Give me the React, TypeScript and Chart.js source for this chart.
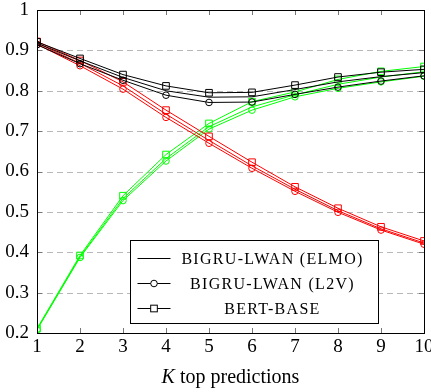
import React, { useEffect, useRef } from "react";
import { Chart, registerables } from "chart.js";

Chart.register(...registerables);

// K values on the x axis
const kValues = [1, 2, 3, 4, 5, 6, 7, 8, 9, 10];
const yTickLabels = ["0.2", "0.3", "0.4", "0.5", "0.6", "0.7", "0.8", "0.9", "1"];
const legendLabels = ["BIGRU-LWAN (ELMO)", "BIGRU-LWAN (L2V)", "BERT-BASE"];
const axisTitleItalic = "K";
const axisTitleRest = " top predictions";

// black group
const blackElmo = [0.918, 0.874, 0.833, 0.8, 0.784, 0.785, 0.803, 0.822, 0.835, 0.845];
const blackL2v = [0.914, 0.867, 0.826, 0.789, 0.771, 0.772, 0.791, 0.809, 0.824, 0.837];
const blackBert = [0.921, 0.88, 0.84, 0.812, 0.795, 0.796, 0.814, 0.834, 0.846, 0.853];

// red group
const redElmo = [0.918, 0.868, 0.812, 0.742, 0.677, 0.614, 0.556, 0.503, 0.458, 0.423];
const redL2v = [0.915, 0.862, 0.804, 0.734, 0.67, 0.608, 0.551, 0.499, 0.455, 0.42];
const redBert = [0.922, 0.875, 0.822, 0.752, 0.687, 0.623, 0.562, 0.509, 0.463, 0.428];

// green group
const greenElmo = [0.209, 0.389, 0.533, 0.632, 0.711, 0.76, 0.79, 0.816, 0.834, 0.847];
const greenL2v = [0.208, 0.387, 0.528, 0.626, 0.705, 0.752, 0.785, 0.806, 0.822, 0.836];
const greenBert = [0.211, 0.392, 0.54, 0.642, 0.719, 0.773, 0.797, 0.828, 0.848, 0.86];

const BLACK = "#000000";
const RED = "#ff0000";
const GREEN = "#00ff00";
const SERIF = "'Liberation Serif', 'Times New Roman', serif";

type Kind = "line" | "circle" | "rect";

function series(label: string, values: number[], color: string, kind: Kind) {
  return {
    label,
    data: values.map((v, i) => ({ x: kValues[i], y: v })),
    borderColor: color,
    backgroundColor: color,
    borderWidth: 1,
    pointStyle: kind === "line" ? false : kind,
    pointRadius: kind === "line" ? 0 : kind === "circle" ? 3.3 : 4.7,
    pointBorderWidth: 1,
    pointBorderColor: color,
    pointBackgroundColor: "rgba(255,255,255,0)",
    tension: 0,
  };
}

function drawMarker(ctx: CanvasRenderingContext2D, kind: Kind, x: number, y: number) {
  if (kind === "circle") {
    ctx.beginPath();
    ctx.arc(x, y, 3.3, 0, Math.PI * 2);
    ctx.fill();
    ctx.stroke();
  } else if (kind === "rect") {
    const s = 4.7 * Math.SQRT1_2;
    ctx.fillRect(x - s, y - s, 2 * s, 2 * s);
    ctx.strokeRect(x - s, y - s, 2 * s, 2 * s);
  }
}

const framePlugin = {
  id: "frame",
  beforeDatasetsDraw(chart: any) {
    const { ctx, chartArea: a, scales } = chart;
    const y = scales.y;
    ctx.save();
    ctx.strokeStyle = "#b8b8b8";
    ctx.lineWidth = 1;
    ctx.setLineDash([6, 4]);
    y.ticks.forEach((t: any) => {
      if (t.value > y.min + 1e-9 && t.value < y.max - 1e-9) {
        const py = Math.round(y.getPixelForValue(t.value)) + 0.5;
        ctx.beginPath();
        ctx.moveTo(a.left, py);
        ctx.lineTo(a.right, py);
        ctx.stroke();
      }
    });
    ctx.restore();
  },
  afterDatasetsDraw(chart: any) {
    const { ctx, chartArea: a, scales } = chart;
    const { x, y } = scales;
    const tick = 5;
    ctx.save();
    ctx.lineWidth = 1;
    ctx.strokeStyle = "#777777";
    x.ticks.forEach((t: any) => {
      const px = Math.round(x.getPixelForValue(t.value)) + 0.5;
      ctx.beginPath();
      ctx.moveTo(px, a.bottom);
      ctx.lineTo(px, a.bottom - tick);
      ctx.moveTo(px, a.top);
      ctx.lineTo(px, a.top + tick);
      ctx.stroke();
    });
    y.ticks.forEach((t: any) => {
      const py = Math.round(y.getPixelForValue(t.value)) + 0.5;
      ctx.beginPath();
      ctx.moveTo(a.left, py);
      ctx.lineTo(a.left + tick, py);
      ctx.moveTo(a.right, py);
      ctx.lineTo(a.right - tick, py);
      ctx.stroke();
    });
    ctx.strokeStyle = "#000000";
    ctx.strokeRect(Math.round(a.left) + 0.5, Math.round(a.top) + 0.5, Math.round(a.right - a.left), Math.round(a.bottom - a.top));

    // legend box in the lower right of the plot
    const boxRight = a.right - 46;
    const boxBottom = a.bottom - 10;
    const boxW = 248;
    const boxH = 83;
    const bx = Math.round(boxRight - boxW) + 0.5;
    const by = Math.round(boxBottom - boxH) + 0.5;
    ctx.fillStyle = "#ffffff";
    ctx.fillRect(bx, by, boxW, boxH);
    ctx.strokeStyle = "#000000";
    ctx.strokeRect(bx, by, boxW, boxH);
    const kinds: Kind[] = ["line", "circle", "rect"];
    const rowY = [by + 17, by + 42.5, by + 67];
    const sampleL = bx + 7;
    const sampleR = bx + 40;
    const textCx = bx + 142;
    ctx.font = `16px ${SERIF}`;
    (ctx as any).letterSpacing = "1.3px";
    ctx.textAlign = "center";
    ctx.textBaseline = "middle";
    legendLabels.forEach((label, i) => {
      const ry = Math.round(rowY[i]) + 0.5;
      ctx.strokeStyle = BLACK;
      ctx.beginPath();
      ctx.moveTo(sampleL, ry);
      ctx.lineTo(sampleR, ry);
      ctx.stroke();
      ctx.fillStyle = "#ffffff";
      drawMarker(ctx, kinds[i], (sampleL + sampleR) / 2, ry);
      ctx.fillStyle = "#000000";
      ctx.fillText(label, textCx, ry + 1);
    });
    ctx.restore();
  },
  afterDraw(chart: any) {
    const { ctx, chartArea: a } = chart;
    ctx.save();
    ctx.fillStyle = "#000000";
    ctx.textBaseline = "alphabetic";
    ctx.textAlign = "left";
    const italicFont = `italic 20px ${SERIF}`;
    const uprightFont = `20px ${SERIF}`;
    ctx.font = italicFont;
    const w1 = ctx.measureText(axisTitleItalic).width;
    ctx.font = uprightFont;
    const w2 = ctx.measureText(axisTitleRest).width;
    const cx = (a.left + a.right) / 2;
    const start = cx - (w1 + w2) / 2;
    const baseline = a.bottom + 50;
    ctx.font = italicFont;
    ctx.fillText(axisTitleItalic, start, baseline);
    ctx.font = uprightFont;
    ctx.fillText(axisTitleRest, start + w1, baseline);
    ctx.restore();
  },
};

export default function App() {
  const canvasRef = useRef<HTMLCanvasElement | null>(null);

  useEffect(() => {
    const canvas = canvasRef.current;
    if (!canvas) return;
    const chart = new Chart(canvas, {
      type: "line",
      data: {
        datasets: [
          series(legendLabels[0], blackElmo, BLACK, "line"),
          series(legendLabels[1], blackL2v, BLACK, "circle"),
          series(legendLabels[2], blackBert, BLACK, "rect"),
          series(legendLabels[0], redElmo, RED, "line"),
          series(legendLabels[1], redL2v, RED, "circle"),
          series(legendLabels[2], redBert, RED, "rect"),
          series(legendLabels[0], greenElmo, GREEN, "line"),
          series(legendLabels[1], greenL2v, GREEN, "circle"),
          series(legendLabels[2], greenBert, GREEN, "rect"),
        ] as any,
      },
      options: {
        animation: false,
        responsive: false,
        devicePixelRatio: 1,
        layout: { padding: { top: 10, right: 7, left: 0, bottom: 0 } },
        plugins: { legend: { display: false }, tooltip: { enabled: false } },
        scales: {
          x: {
            type: "linear",
            min: 1,
            max: 10,
            grid: { display: false, drawTicks: false },
            border: { display: false },
            ticks: {
              stepSize: 1,
              padding: 3,
              color: "#000000",
              font: { family: SERIF, size: 19 },
              maxRotation: 0,
              autoSkip: false,
            },
            afterFit: (s: any) => {
              s.height = 59;
              s.paddingLeft = 0;
              s.paddingRight = 0;
            },
          },
          y: {
            type: "linear",
            min: 0.2,
            max: 1,
            grid: { display: false, drawTicks: false },
            border: { display: false },
            ticks: {
              stepSize: 0.1,
              padding: 8,
              color: "#000000",
              font: { family: SERIF, size: 19 },
              callback: (_v: any, i: number) => yTickLabels[i],
            },
            afterFit: (s: any) => {
              s.width = 37;
              s.paddingTop = 0;
              s.paddingBottom = 0;
            },
          },
        },
      },
      plugins: [framePlugin],
    });
    return () => chart.destroy();
  }, []);

  return (
    <div style={{ position: "absolute", left: 0, top: 0, width: 431, height: 392, background: "#ffffff" }}>
      <canvas ref={canvasRef} width={431} height={392} style={{ display: "block" }} />
    </div>
  );
}
